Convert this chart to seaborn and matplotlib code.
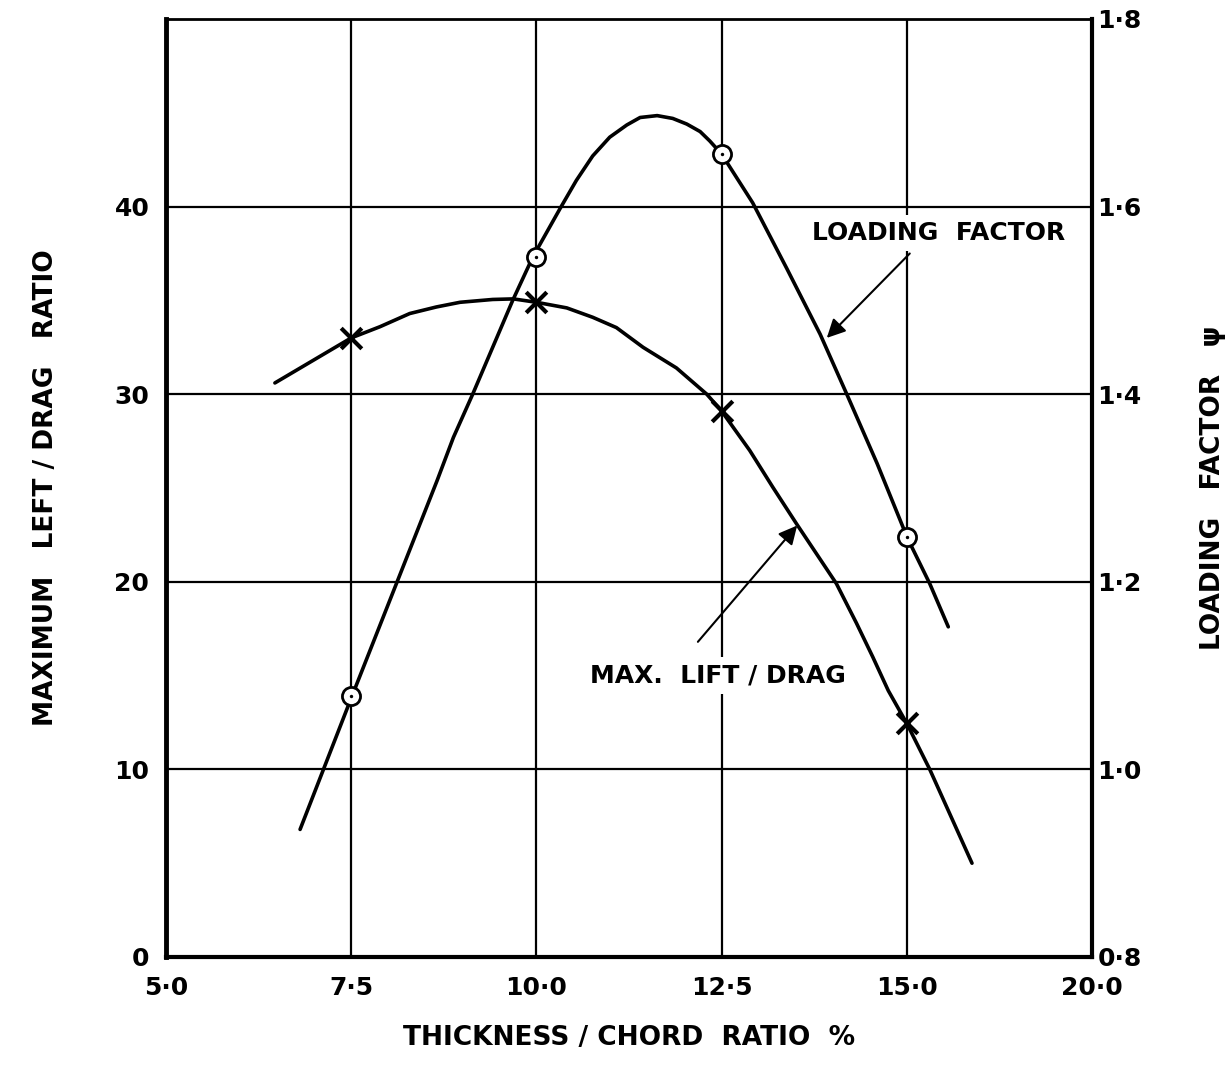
import matplotlib
matplotlib.use('Agg')
import matplotlib.pyplot as plt
import pandas as pd
import seaborn as sns

# thickness/chord ratio (%) and values
# loading factor curve, plotted on the left scale (0-50 <-> 0.8-1.8)
lf_t = [6.81, 7.51, 8.11, 8.66, 8.88, 9.14, 9.68, 9.95, 10.32, 10.54, 10.76,
        10.99, 11.22, 11.40, 11.63, 11.84, 12.03, 12.21, 12.34, 12.50, 12.92,
        13.38, 13.83, 14.19, 14.60, 14.95, 15.00, 15.31, 15.56]
lf_y = [6.8, 13.9, 19.9, 25.4, 27.7, 30.0, 35.0, 37.3, 39.9, 41.4, 42.7,
        43.7, 44.35, 44.75, 44.85, 44.7, 44.4, 44.0, 43.5, 42.8, 40.2,
        36.7, 33.2, 30.0, 26.3, 22.9, 22.4, 19.9, 17.6]
# max lift/drag curve
ld_t = [6.47, 7.50, 7.89, 8.29, 8.65, 8.97, 9.41, 9.69, 10.00, 10.41, 10.76,
        11.08, 11.44, 11.89, 12.30, 12.50, 12.88, 13.19, 13.51, 13.78, 14.05,
        14.32, 14.54, 14.75, 15.00, 15.31, 15.88]
ld_y = [30.6, 33.0, 33.6, 34.3, 34.65, 34.9, 35.05, 35.08, 34.9, 34.6, 34.1,
        33.55, 32.5, 31.4, 30.0, 29.1, 27.0, 25.05, 23.1, 21.5, 19.9,
        17.8, 16.0, 14.2, 12.45, 10.0, 5.0]

# measured points
pt_t = [7.5, 10.0, 12.5, 15.0]
lf_pts = [13.9, 37.3, 42.8, 22.4]
ld_pts = [33.0, 34.9, 29.1, 12.45]

x_ticks = [5.0, 7.5, 10.0, 12.5, 15.0, 17.5]
x_labels = ['5·0', '7·5', '10·0', '12·5', '15·0', '20·0']
y_ticks = [0, 10, 20, 30, 40]
y_labels = ['0', '10', '20', '30', '40']
y2_ticks = [0.8, 1.0, 1.2, 1.4, 1.6, 1.8]
y2_labels = ['0·8', '1·0', '1·2', '1·4', '1·6', '1·8']

sns.set_theme(style='white')
plt.rcParams['font.family'] = ['DejaVu Sans']
plt.rcParams['text.color'] = 'black'
plt.rcParams['axes.labelcolor'] = 'black'

fig = plt.figure(figsize=(12.29, 10.66), dpi=100)
ax = fig.add_axes([166 / 1229, 1 - 957 / 1066, 926 / 1229, 938 / 1066])

lf = pd.DataFrame({'t': lf_t, 'v': lf_y})
ld = pd.DataFrame({'t': ld_t, 'v': ld_y})
sns.lineplot(data=lf, x='t', y='v', sort=False, estimator=None, ax=ax,
             color='black', lw=2.6, zorder=3)
sns.lineplot(data=ld, x='t', y='v', sort=False, estimator=None, ax=ax,
             color='black', lw=2.6, zorder=3)

pts = pd.DataFrame({'t': pt_t, 'lf': lf_pts, 'ld': ld_pts})
sns.scatterplot(data=pts, x='t', y='lf', ax=ax, marker='o', s=170,
                facecolor='white', edgecolor='black', linewidth=2, zorder=4)
sns.scatterplot(data=pts, x='t', y='lf', ax=ax, marker='o', s=6,
                color='black', linewidth=0, zorder=5)
sns.scatterplot(data=pts, x='t', y='ld', ax=ax, marker='x', s=220,
                color='black', linewidth=3, zorder=4)

ax.set_xlim(5.0, 17.5)
ax.set_ylim(0, 50)
ax.set_xticks(x_ticks)
ax.set_xticklabels(x_labels, fontweight='bold')
ax.set_yticks(y_ticks)
ax.set_yticklabels(y_labels, fontweight='bold')
ax.tick_params(axis='both', length=0, labelsize=18, colors='black')
ax.tick_params(axis='x', pad=14)
ax.tick_params(axis='y', pad=12)
ax.grid(True, color='black', lw=1.6)
ax.set_axisbelow(True)
for side, w in [('left', 3.5), ('bottom', 3.0), ('top', 2.0), ('right', 3.0)]:
    ax.spines[side].set_visible(True)
    ax.spines[side].set_color('black')
    ax.spines[side].set_linewidth(w)

ax.set_xlabel('THICKNESS / CHORD  RATIO  %', fontsize=19, fontweight='bold',
              labelpad=18)
ax.set_ylabel('MAXIMUM   LEFT / DRAG   RATIO', fontsize=19, fontweight='bold',
              labelpad=40)

ax2 = ax.twinx()
ax2.set_ylim(0.8, 1.8)
ax2.set_yticks(y2_ticks)
ax2.set_yticklabels(y2_labels, fontweight='bold')
ax2.tick_params(axis='y', length=0, labelsize=18, pad=4, colors='black')
ax2.grid(False)
for s in ax2.spines.values():
    s.set_visible(False)
ax2.set_ylabel('LOADING   FACTOR   ψ', fontsize=19, fontweight='bold',
               labelpad=42, rotation=90)

bb = dict(boxstyle='square,pad=0.25', facecolor='white', edgecolor='none')
ax.text(13.72, 38.6, 'LOADING  FACTOR', fontsize=18, fontweight='bold',
        va='center', ha='left', bbox=bb, zorder=6)
ax.text(10.72, 15.0, 'MAX.  LIFT / DRAG', fontsize=18, fontweight='bold',
        va='center', ha='left', bbox=bb, zorder=6)

arrow = dict(arrowstyle='-|>', color='black', lw=1.5, mutation_scale=28,
             shrinkA=0, shrinkB=0)
ax.annotate('', xy=(13.92, 33.0), xytext=(15.04, 37.5), arrowprops=arrow,
            zorder=6)
ax.annotate('', xy=(13.52, 23.0), xytext=(12.18, 16.8), arrowprops=arrow,
            zorder=6)

fig.savefig('out.png', dpi=100, facecolor='white')
